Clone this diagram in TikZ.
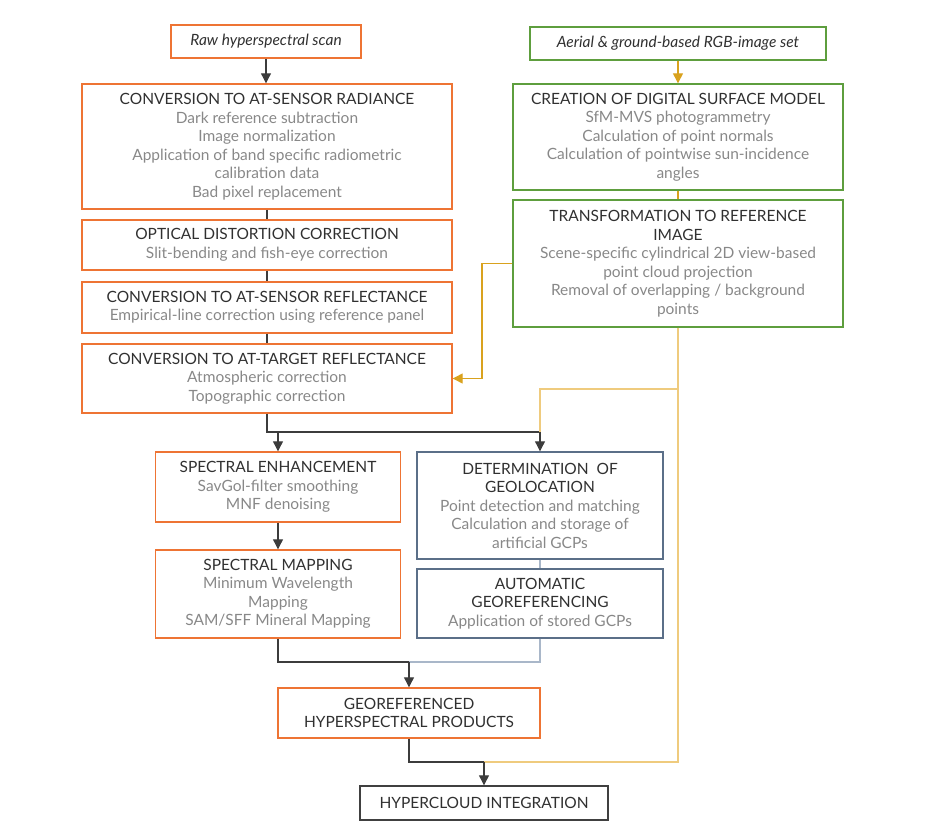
\documentclass[tikz,border=0pt]{standalone}
\usepackage{fontspec}
\setmainfont{Lato}
\usetikzlibrary{arrows.meta, positioning}

\definecolor{boxorange}{HTML}{EE7434}
\definecolor{boxgreen}{HTML}{5E9E3E}
\definecolor{boxblue}{HTML}{5B6F88}
\definecolor{boxblack}{HTML}{404040}
\definecolor{titlegray}{HTML}{303030}
\definecolor{textgray}{HTML}{888888}
\definecolor{linegold}{HTML}{D9A21E}
\definecolor{linesand}{HTML}{EFCB7E}
\definecolor{lineblue}{HTML}{A9B7C9}
\definecolor{linedark}{HTML}{3C3C3C}

\newcommand{\subtext}[1]{{\color{textgray}#1}}

\tikzset{
  box/.style={draw, line width=1.4pt, align=center, inner sep=2pt,
    font=\fontsize{15.5}{18.5}\selectfont, text=titlegray},
  orangebox/.style={box, draw=boxorange},
  greenbox/.style={box, draw=boxgreen},
  bluebox/.style={box, draw=boxblue},
  blackbox/.style={box, draw=boxblack},
  darkline/.style={draw=linedark, line width=1.1pt},
  goldline/.style={draw=linegold, line width=1.3pt},
  sandline/.style={draw=linesand, line width=1.3pt},
  blueline/.style={draw=lineblue, line width=1.1pt},
  arrow/.style={-{Triangle[width=10pt,length=10pt]}},
}

\begin{document}
\begin{tikzpicture}[x=1pt, y=-1pt]
  \useasboundingbox (0,0) rectangle (936,838);

  % Inputs
  \node[orangebox, minimum width=190, minimum height=33] (raw) at (266,41.5)
    {\itshape Raw hyperspectral scan};
  \node[greenbox, minimum width=296, minimum height=33] (aerial) at (678,43.5)
    {\itshape Aerial \& ground-based RGB-image set};

  % Hyperspectral chain
  \node[orangebox, minimum width=370, minimum height=125] (radiance) at (267,146.5)
    {CONVERSION TO AT-SENSOR RADIANCE\\ \subtext{Dark reference subtraction}\\
     \subtext{Image normalization}\\ \subtext{Application of band specific radiometric}\\
     \subtext{calibration data}\\ \subtext{Bad pixel replacement}};
  \node[orangebox, minimum width=370, minimum height=50] (optical) at (267,245)
    {OPTICAL DISTORTION CORRECTION\\ \subtext{Slit-bending and fish-eye correction}};
  \node[orangebox, minimum width=370, minimum height=51] (sensor) at (267,307.5)
    {CONVERSION TO AT-SENSOR REFLECTANCE\\ \subtext{Empirical-line correction using reference panel}};
  \node[orangebox, minimum width=370, minimum height=69] (target) at (267,378.5)
    {CONVERSION TO AT-TARGET REFLECTANCE\\ \subtext{Atmospheric correction}\\
     \subtext{Topographic correction}};

  % Surface model chain
  \node[greenbox, minimum width=330, minimum height=106] (creation) at (678,137)
    {CREATION OF DIGITAL SURFACE MODEL\\ \subtext{SfM-MVS photogrammetry}\\
     \subtext{Calculation of point normals}\\ \subtext{Calculation of pointwise sun-incidence}\\
     \subtext{angles}};
  \node[greenbox, minimum width=330, minimum height=127] (transform) at (678,263.5)
    {TRANSFORMATION TO REFERENCE\\ IMAGE\\ \subtext{Scene-specific cylindrical 2D view-based}\\
     \subtext{point cloud projection}\\ \subtext{Removal of overlapping / background}\\
     \subtext{points}};

  % Products
  \node[orangebox, minimum width=245, minimum height=70] (enhance) at (278,487)
    {SPECTRAL ENHANCEMENT\\ \subtext{SavGol-filter smoothing}\\ \subtext{MNF denoising}};
  \node[orangebox, minimum width=245, minimum height=88] (mapping) at (278,594)
    {SPECTRAL MAPPING\\ \subtext{Minimum Wavelength}\\ \subtext{Mapping}\\
     \subtext{SAM/SFF Mineral Mapping}};
  \node[bluebox, minimum width=246, minimum height=107] (determ) at (540,505.5)
    {DETERMINATION~ OF\\ GEOLOCATION\\ \subtext{Point detection and matching}\\
     \subtext{Calculation and storage of}\\ \subtext{artificial GCPs}};
  \node[bluebox, minimum width=246, minimum height=69] (auto) at (540,603.5)
    {AUTOMATIC\\ GEOREFERENCING\\ \subtext{Application of stored GCPs}};
  \node[orangebox, minimum width=262, minimum height=50] (geo) at (409,713)
    {GEOREFERENCED\\ HYPERSPECTRAL PRODUCTS};
  \node[blackbox, minimum width=248, minimum height=34] (hyper) at (484,803)
    {HYPERCLOUD INTEGRATION};

  % Junction points
  \coordinate (split) at (determ.north |- 0,432);
  \coordinate (goldsplit) at (transform.south |- 0,389);
  \coordinate (goldbend) at (482,0);
  \coordinate (merge) at (geo.north |- 0,662);
  \coordinate (join) at (hyper.north |- 0,762);

  % Connectors of the left chain
  \draw[darkline, arrow] (raw.south) -- (raw.south |- radiance.north);
  \draw[darkline] (radiance) -- (optical);
  \draw[darkline] (optical) -- (sensor);
  \draw[darkline] (sensor) -- (target);
  \draw[darkline] (target.south) |- (split);
  \draw[darkline, arrow] (enhance.north |- split) -- (enhance.north);
  \draw[darkline, arrow] (split) -- (determ.north);
  \draw[darkline, arrow] (enhance) -- (mapping);

  % Connectors of the right chain
  \draw[goldline, arrow] (aerial) -- (creation);
  \draw[goldline] (creation) -- (transform);
  \draw[goldline, arrow] (transform.west) -- (transform.west -| goldbend)
    -- (target.east -| goldbend) -- (target.east);
  \draw[sandline] (transform.south) -- (transform.south |- join) -- (join);
  \draw[sandline] (goldsplit) -| (split);
  \draw[blueline] (determ) -- (auto);

  % Merging into the products
  \draw[darkline] (mapping.south) |- (merge);
  \draw[blueline] (auto.south) |- (merge);
  \draw[darkline, arrow] (merge) -- (geo.north);
  \draw[darkline] (geo.south) |- (join);
  \draw[darkline, arrow] (join) -- (hyper.north);
\end{tikzpicture}
\end{document}
